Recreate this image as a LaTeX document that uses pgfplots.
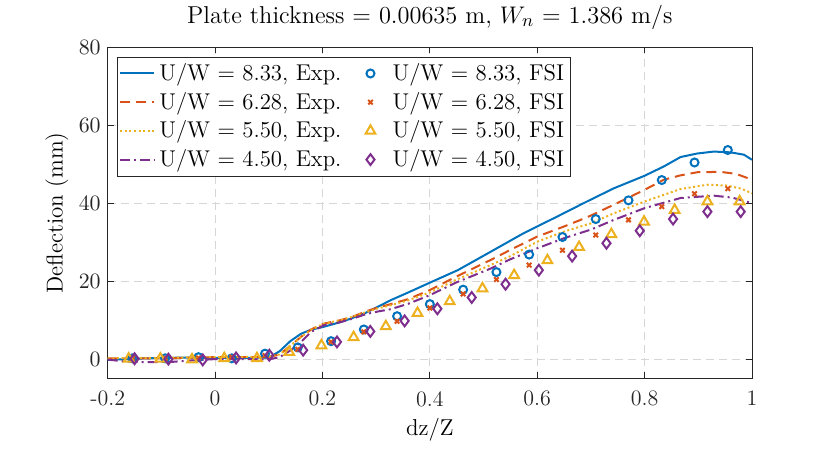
\documentclass[border=0pt]{standalone}
\usepackage{pgfplots}
\pgfplotsset{compat=1.18}
\definecolor{mblue}{rgb}{0,0.447,0.741}
\definecolor{morange}{rgb}{0.85,0.325,0.098}
\definecolor{myellow}{rgb}{0.929,0.694,0.125}
\definecolor{mpurple}{rgb}{0.494,0.184,0.556}
\definecolor{maxis}{rgb}{0.15,0.15,0.15}
\pgfplotsset{
  marklegend/.style={legend image code/.code={%
    \path (0cm,0cm) (0.6cm,0cm);
    \draw[mark repeat=2,mark phase=2,##1] plot coordinates {(0cm,0cm) (0.3cm,0cm) (0.6cm,0cm)};}},
}
\begin{document}
\begin{tikzpicture}
\begin{axis}[
  scale only axis, width=322pt, height=165.75pt,
  xmin=-0.2, xmax=1, ymin=-5, ymax=80,
  xtick={-0.2,0,0.2,0.4,0.6,0.8,1},
  xticklabels={-0.2,0,0.2,0.4,0.6,0.8,1},
  ytick={0,20,40,60,80},
  tick align=inside, major tick length=3.2pt,
  tick style={color=maxis, line width=0.4pt},
  axis line style={color=maxis, line width=0.4pt},
  grid=major,
  major grid style={dash pattern=on 4pt off 2.5pt, color=black!16, line width=0.4pt},
  ticklabel style={font=\fontsize{11}{13}\selectfont, color=maxis},
  xticklabel style={yshift=-2.8pt},
  title={Plate thickness = 0.00635 m, $W_n$ = 1.386 m/s},
  title style={at={(axis description cs:0.5,1)}, anchor=base, yshift=6pt, font=\fontsize{12.2}{14}\selectfont},
  xlabel={dz/Z},
  xlabel style={at={(axis description cs:0.5,0)}, anchor=base, yshift=-28.5pt, font=\fontsize{11.5}{13}\selectfont},
  ylabel={Deflection (mm)},
  ylabel style={at={(axis description cs:-0.0699,0.5)}, anchor=base, font=\fontsize{11.5}{13}\selectfont},
  legend columns=2,
  legend cell align=left,
  legend style={at={(axis description cs:0.014,0.9707)}, anchor=north west,
    draw=maxis, line width=0.4pt, fill=white,
    font=\fontsize{11.4}{13}\selectfont,
    inner xsep=1pt, inner ysep=1pt,
    nodes={inner ysep=2.15pt, inner xsep=2pt},
    /tikz/every even column/.append style={column sep=3.5pt}},
]
% U/W = 8.33 Exp
\addplot[mblue, line width=1pt] coordinates {
(-0.2,-0.2) (-0.15,0.1) (-0.1,0.3) (-0.05,0.4) (0,0.3) (0.05,0.3) (0.1,0.4)
(0.12,2.0) (0.14,4.6) (0.16,6.5) (0.18,7.6) (0.2,8.2) (0.234,9.5) (0.253,10.4)
(0.278,11.7) (0.303,13.4) (0.327,15.1) (0.36,17.1) (0.4,19.6) (0.452,22.8)
(0.513,27.5) (0.575,32.3) (0.6,34.0) (0.638,36.6) (0.681,39.6) (0.7,40.9)
(0.743,43.8) (0.8,47.0) (0.836,49.4) (0.867,51.8) (0.898,52.7) (0.929,53.2)
(0.96,53.0) (0.985,52.4) (1.0,51.1)};
\addlegendentry{U/W = 8.33, Exp.}
\addplot[only marks, marklegend, mark=o, mark size=2pt, mblue, line width=1pt] coordinates {
(-0.154,0.2) (-0.093,0.2) (-0.031,0.5) (0.031,0.2) (0.093,1.4) (0.154,3.0)
(0.216,4.6) (0.277,7.6) (0.339,11.0) (0.400,14.1) (0.462,17.8) (0.524,22.3)
(0.585,26.8) (0.647,31.3) (0.709,35.9) (0.770,40.7) (0.832,45.9) (0.893,50.4)
(0.955,53.6)};
\addlegendentry{U/W = 8.33, FSI}
% U/W = 6.28 Exp
\addplot[morange, line width=1pt, dash pattern=on 5pt off 3pt] coordinates {
(-0.2,0.2) (-0.1,0.2) (0,0.5) (0.1,0.5) (0.12,1.2) (0.141,3.5) (0.16,5.7)
(0.18,7.7) (0.203,9.1) (0.234,10.0) (0.257,10.9) (0.28,12.2) (0.303,13.2)
(0.327,14.1) (0.36,15.4) (0.4,17.7) (0.45,21.2) (0.513,25.4) (0.55,28.0)
(0.6,31.4) (0.65,34.0) (0.681,35.7) (0.7,36.8) (0.743,39.6) (0.8,43.4)
(0.836,46.0) (0.867,47.1) (0.898,47.9) (0.941,48.0) (0.97,47.5) (1.0,46.0)};
\addlegendentry{U/W = 6.28, Exp.}
\addplot[only marks, marklegend, mark=x, mark size=1.6pt, morange, line width=1pt] coordinates {
(-0.154,0.2) (-0.093,0.2) (-0.031,0.3) (0.031,0.5) (0.093,0.9) (0.154,2.5)
(0.216,4.4) (0.277,7.0) (0.339,9.7) (0.400,13.1) (0.462,16.7) (0.524,20.4)
(0.585,24.1) (0.647,27.9) (0.709,31.8) (0.770,35.7) (0.832,39.1) (0.893,42.4)
(0.955,43.7)};
\addlegendentry{U/W = 6.28, FSI}
% U/W = 5.50 Exp
\addplot[myellow, line width=1pt, dash pattern=on 1pt off 1.3pt] coordinates {
(-0.2,0.2) (0,0.5) (0.1,0.6) (0.12,1.2) (0.141,3.5) (0.16,5.7) (0.18,7.6)
(0.203,9.1) (0.234,10.0) (0.257,10.9) (0.28,12.0) (0.303,13.0) (0.327,13.8)
(0.36,15.1) (0.4,17.1) (0.45,20.4) (0.513,24.1) (0.55,26.4) (0.6,30.1)
(0.65,32.7) (0.681,34.0) (0.7,34.8) (0.743,37.4) (0.8,40.4) (0.867,43.6)
(0.917,44.7) (0.952,44.5) (0.98,43.7) (1.0,42.5)};
\addlegendentry{U/W = 5.50, Exp.}
\addplot[only marks, marklegend, mark=triangle, mark size=2.8pt, myellow, line width=1pt] coordinates {
(-0.161,0.1) (-0.102,0.1) (-0.043,-0.1) (0.017,0.2) (0.078,0.2) (0.138,1.8)
(0.198,3.5) (0.258,5.6) (0.318,8.4) (0.377,11.8) (0.437,14.8) (0.498,18.1)
(0.557,21.5) (0.619,25.3) (0.678,28.7) (0.738,32.0) (0.799,35.2) (0.856,38.2)
(0.917,40.4) (0.977,40.4)};
\addlegendentry{U/W = 5.50, FSI}
% U/W = 4.50 Exp
\addplot[mpurple, line width=1pt, dash pattern=on 5pt off 2pt on 1pt off 2pt] coordinates {
(-0.2,-0.1) (-0.17,-0.6) (-0.13,-0.8) (-0.08,-0.7) (-0.04,-0.3) (0,0) (0.05,0)
(0.1,-0.1) (0.12,0.5) (0.141,2.3) (0.16,4.4) (0.179,7.0) (0.203,8.7) (0.234,9.5)
(0.257,10.4) (0.28,11.5) (0.303,12.2) (0.327,12.8) (0.36,14.2) (0.4,16.4)
(0.45,19.7) (0.513,23.2) (0.55,25.6) (0.6,28.4) (0.65,31.0) (0.7,33.2)
(0.743,35.7) (0.8,38.7) (0.867,41.3) (0.929,41.9) (0.963,41.4) (1.0,40.0)};
\addlegendentry{U/W = 4.50, Exp.}
\addplot[only marks, marklegend, mark=diamond, mark size=2.7pt, mpurple, line width=1pt] coordinates {
(-0.150,0.1) (-0.087,0) (-0.023,-0.2) (0.039,0.3) (0.101,1.0) (0.164,2.3)
(0.227,4.4) (0.289,7.1) (0.353,9.8) (0.414,12.9) (0.478,15.8) (0.541,19.2)
(0.603,22.8) (0.665,26.4) (0.729,29.7) (0.791,32.9) (0.853,35.9) (0.917,37.8)
(0.979,37.8)};
\addlegendentry{U/W = 4.50, FSI}
\end{axis}
\pgfresetboundingbox
\useasboundingbox ([xshift=-53.85pt,yshift=-39.25pt]current axis.south west) rectangle ([xshift=39pt,yshift=23.5pt]current axis.north east);
\end{tikzpicture}
\end{document}
